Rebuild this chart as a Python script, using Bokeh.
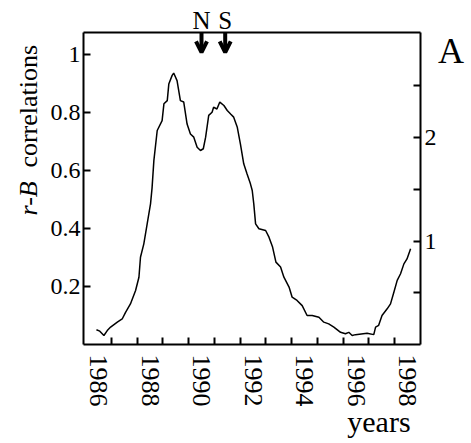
import math
from bokeh.plotting import figure
from bokeh.models import Range1d, LinearAxis, FixedTicker, Label, Arrow, OpenHead
from bokeh.embed import file_html
from bokeh.resources import INLINE

# ---- data ----
years = [1985.92, 1986.05, 1986.21, 1986.34, 1986.47, 1986.73, 1986.92, 1987.05, 1987.24,
         1987.44, 1987.57, 1987.63, 1987.76, 1987.89, 1988.02, 1988.08, 1988.15, 1988.28,
         1988.47, 1988.54, 1988.67, 1988.73, 1988.86, 1988.92, 1989.05, 1989.18, 1989.31,
         1989.44, 1989.57, 1989.70, 1989.83, 1989.96, 1990.07, 1990.16, 1990.28, 1990.41,
         1990.47, 1990.60, 1990.71, 1990.87, 1991.00, 1991.13, 1991.25, 1991.39, 1991.51,
         1991.64, 1991.77, 1991.90, 1991.97, 1992.03, 1992.10, 1992.23, 1992.49, 1992.62,
         1992.76, 1992.89, 1993.07, 1993.20, 1993.40, 1993.52, 1993.71, 1993.91, 1994.10,
         1994.30, 1994.56, 1994.75, 1994.94, 1995.14, 1995.40, 1995.59, 1995.72, 1995.85,
         1995.98, 1996.43, 1996.69, 1996.76, 1996.88, 1997.01, 1997.21, 1997.34, 1997.47,
         1997.60, 1997.73, 1997.86, 1997.98, 1998.12]
corr = [0.051, 0.046, 0.031, 0.048, 0.060, 0.077, 0.088, 0.111, 0.140,
        0.186, 0.232, 0.301, 0.347, 0.416, 0.485, 0.540, 0.634, 0.738,
        0.772, 0.830, 0.841, 0.898, 0.928, 0.936, 0.910, 0.841, 0.836,
        0.760, 0.726, 0.715, 0.680, 0.669, 0.675, 0.715, 0.790, 0.801,
        0.818, 0.812, 0.836, 0.824, 0.807, 0.795, 0.784, 0.749, 0.692,
        0.623, 0.588, 0.554, 0.531, 0.485, 0.416, 0.399, 0.393, 0.370,
        0.336, 0.284, 0.267, 0.232, 0.198, 0.163, 0.152, 0.134, 0.100,
        0.100, 0.094, 0.077, 0.071, 0.060, 0.042, 0.037, 0.042, 0.031,
        0.034, 0.039, 0.034, 0.060, 0.066, 0.100, 0.123, 0.140, 0.180,
        0.221, 0.244, 0.278, 0.295, 0.330]

x_label_years = [1986, 1988, 1990, 1992, 1994, 1996, 1998]
x_minor_ticks = [1986.5, 1987.5, 1988.5, 1989.5, 1990.5, 1991.5, 1992.5,
                 1993.5, 1994.5, 1995.5, 1996.5, 1997.5]
left_ticks = [0.2, 0.4, 0.6, 0.8, 1.0]
left_tick_labels = ["0.2", "0.4", "0.6", "0.8", "1"]
right_ticks = [1, 2]
right_minor_ticks = [0.5, 1.5, 2.5]
event_names = ["N", "S"]
event_years = [1990.0, 1990.92]

# ---- layout constants (plot box inside a full-canvas frame) ----
BOX_X = (1985.42, 1998.5)
BOX_Y = (0.0, 1.076)
BOX_YR = (0.0, 3.0145)

FONT = "Liberation Serif"
XTICK_SIZE = "26px"
YTICK_SIZE = "24px"

p = figure(width=471, height=443,
           x_range=Range1d(1982.194, 2000.485), y_range=Range1d(-0.3414, 1.1862),
           output_backend="svg", toolbar_location=None, min_border=0,
           background_fill_color="white", border_fill_color="white")
p.extra_y_ranges = {"right": Range1d(-0.9565, 3.3237)}
p.grid.visible = False
p.outline_line_color = None

p.line(years, corr, line_color="black", line_width=1.5)

# bottom axis
xa = p.xaxis[0]
xa.fixed_location = BOX_Y[0]
xa.bounds = BOX_X
xa.ticker = FixedTicker(ticks=x_label_years, minor_ticks=x_minor_ticks)
xa.major_tick_in = 0
xa.major_tick_out = 0
xa.minor_tick_in = 7
xa.minor_tick_out = 0
xa.minor_tick_line_width = 2
xa.axis_line_width = 2
xa.major_label_orientation = "vertical"
xa.major_label_standoff = 10
xa.major_label_text_font = FONT
xa.major_label_text_font_size = XTICK_SIZE
xa.major_label_text_color = "black"

# top border
ta = LinearAxis(fixed_location=BOX_Y[1], bounds=BOX_X,
                ticker=FixedTicker(ticks=[], minor_ticks=[]))
ta.axis_line_width = 2
ta.major_tick_in = 0
ta.major_tick_out = 0
ta.minor_tick_in = 0
ta.minor_tick_out = 0
ta.major_label_text_color = None
p.add_layout(ta, "above")

# left axis
ya = p.yaxis[0]
ya.fixed_location = BOX_X[0]
ya.bounds = BOX_Y
ya.ticker = FixedTicker(ticks=left_ticks, minor_ticks=[])
ya.major_label_overrides = {t: s for t, s in zip(left_ticks, left_tick_labels)}
ya.major_tick_in = 7
ya.major_tick_out = 0
ya.major_tick_line_width = 2
ya.minor_tick_in = 0
ya.minor_tick_out = 0
ya.axis_line_width = 2
ya.major_label_standoff = 3
ya.major_label_text_font = FONT
ya.major_label_text_font_size = YTICK_SIZE
ya.major_label_text_color = "black"

# right axis
ra = LinearAxis(y_range_name="right", fixed_location=BOX_X[1], bounds=BOX_YR,
                ticker=FixedTicker(ticks=right_ticks, minor_ticks=right_minor_ticks))
ra.major_tick_in = 7
ra.major_tick_out = 0
ra.minor_tick_in = 7
ra.minor_tick_out = 0
ra.major_tick_line_width = 2
ra.minor_tick_line_width = 2
ra.axis_line_width = 2
ra.major_label_standoff = 4
ra.major_label_text_font = FONT
ra.major_label_text_font_size = YTICK_SIZE
ra.major_label_text_color = "black"
p.add_layout(ra, "right")

# event arrows and letters
for name, yr in zip(event_names, event_years):
    p.add_layout(Arrow(end=OpenHead(size=11, line_width=4, line_color="black"),
                       x_start=yr, y_start=BOX_Y[1], x_end=yr, y_end=1.007,
                       line_width=4, line_color="black"))
    p.add_layout(Label(x=yr, y=1.1186, text=name, text_align="center",
                       text_baseline="middle", text_font=FONT,
                       text_font_size="25px", text_color="black"))

# panel letter
p.add_layout(Label(x=1999.69, y=1.0109, text="A", text_align="center",
                   text_baseline="middle", text_font=FONT,
                   text_font_size="36px", text_color="black"))

# axis titles
p.add_layout(Label(x=1998.12, y=-0.2652, text="years", text_align="right",
                   text_baseline="middle", text_font=FONT,
                   text_font_size="30px", text_color="black"))
p.add_layout(Label(x=1983.289, y=0.445, text="r-B", angle=math.pi / 2,
                   text_align="left", text_baseline="middle", text_font=FONT,
                   text_font_style="italic", text_font_size="26px", text_color="black"))
p.add_layout(Label(x=1983.289, y=0.610, text="correlations", angle=math.pi / 2,
                   text_align="left", text_baseline="middle", text_font=FONT,
                   text_font_size="26px", text_color="black"))

open("out.html", "w").write(file_html(p, INLINE))
